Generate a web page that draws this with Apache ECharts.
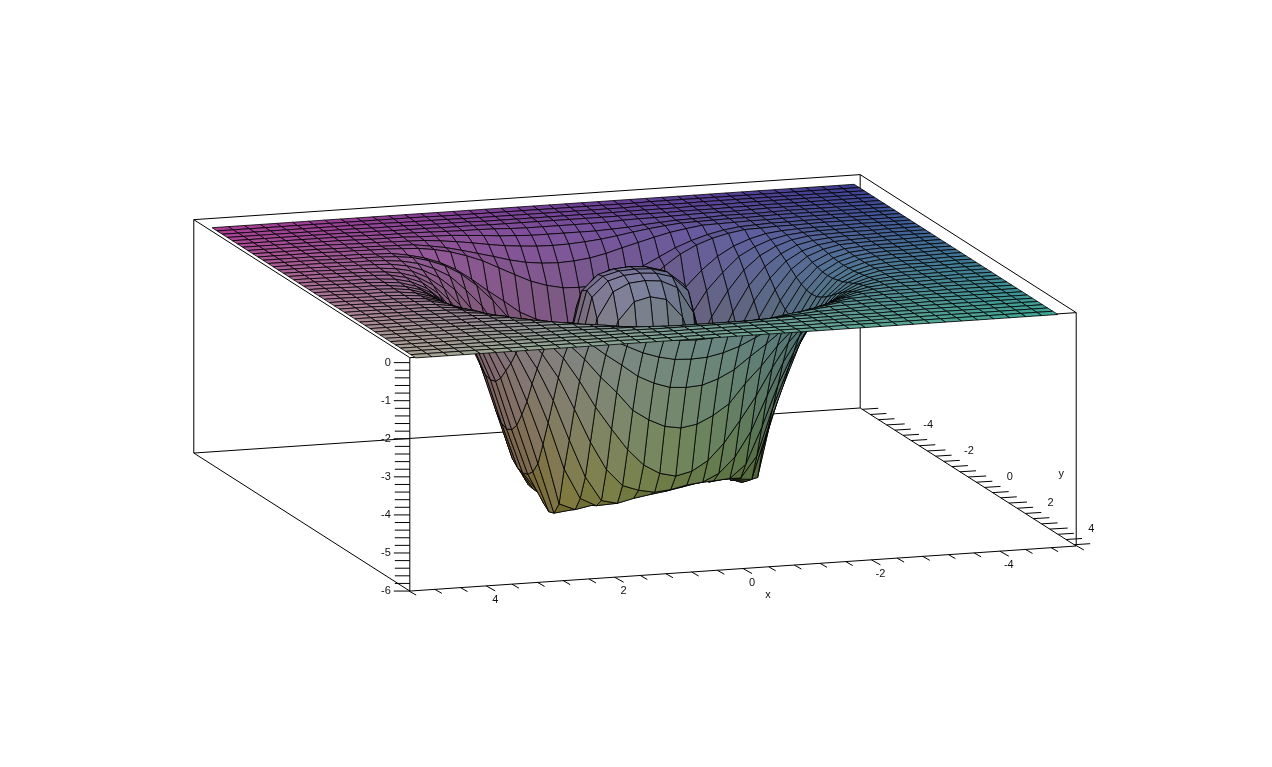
<!DOCTYPE html>
<html>
<head>
<meta charset="utf-8">
<style>html,body{margin:0;padding:0;background:#fff}#main{width:1272px;height:767px}</style>
<script src="https://cdn.jsdelivr.net/npm/echarts@6/dist/echarts.min.js"></script>
</head>
<body>
<div id="main"></div>
<script>
// surface grid, x and y run from -5 to 5 in steps of 0.25
var xGrid = [-5,-4.75,-4.5,-4.25,-4,-3.75,-3.5,-3.25,-3,-2.75,-2.5,-2.25,-2,-1.75,-1.5,-1.25,-1,-.75,-.5,-.25,0,.25,.5,.75,1,1.25,1.5,1.75,2,2.25,2.5,2.75,3,3.25,3.5,3.75,4,4.25,4.5,4.75,5];
var yGrid = xGrid;
// z values, one row per y (far row first), columns follow xGrid
var zRows = [
[0,0,0,0,0,0,0,0,0,0,0,0,0,0,0,0,0,0,0,0,0,0,0,0,0,0,0,0,0,0,0,0,0,0,0,0,0,0,0,0,0],
[0,0,0,0,0,0,0,0,0,0,0,0,0,0,-.01,-.01,-.01,-.01,-.01,-.01,-.01,-.01,-.01,-.01,-.01,-.01,-.01,0,0,0,0,0,0,0,0,0,0,0,0,0,0],
[0,0,0,0,0,0,0,0,0,0,0,-.01,-.01,-.01,-.01,-.02,-.02,-.02,-.02,-.02,-.02,-.02,-.02,-.02,-.02,-.02,-.01,-.01,-.01,-.01,0,0,0,0,0,0,0,0,0,0,0],
[0,0,0,0,0,0,0,0,0,-.01,-.01,-.01,-.02,-.02,-.02,-.02,-.03,-.03,-.03,-.03,-.03,-.03,-.03,-.03,-.03,-.02,-.02,-.02,-.02,-.01,-.01,-.01,0,0,0,0,0,0,0,0,0],
[0,0,0,0,0,0,0,0,-.01,-.01,-.02,-.02,-.02,-.03,-.03,-.03,-.04,-.04,-.04,-.04,-.04,-.04,-.04,-.04,-.04,-.03,-.03,-.03,-.02,-.02,-.02,-.01,-.01,0,0,0,0,0,0,0,0],
[0,0,0,0,0,0,0,0,-.01,-.02,-.02,-.02,-.03,-.04,-.05,-.05,-.06,-.08,-.09,-.09,-.09,-.09,-.09,-.08,-.06,-.05,-.05,-.04,-.03,-.02,-.02,-.02,-.01,0,0,0,0,0,0,0,0],
[0,0,0,0,0,0,0,-.01,-.02,-.02,-.02,-.04,-.05,-.06,-.09,-.12,-.16,-.18,-.2,-.2,-.2,-.2,-.2,-.18,-.16,-.12,-.09,-.06,-.05,-.04,-.02,-.02,-.02,-.01,0,0,0,0,0,0,0],
[0,0,0,0,0,0,0,0,-.01,-.02,-.02,-.03,-.04,-.05,-.09,-.14,-.2,-.27,-.33,-.37,-.4,-.41,-.4,-.37,-.33,-.27,-.2,-.14,-.09,-.05,-.04,-.03,-.02,-.02,-.01,0,0,0,0,0,0],
[0,0,0,0,0,0,0,-.01,-.02,-.02,-.03,-.04,-.05,-.11,-.18,-.28,-.39,-.5,-.62,-.71,-.76,-.78,-.76,-.71,-.62,-.5,-.39,-.28,-.18,-.11,-.05,-.04,-.03,-.02,-.02,-.01,0,0,0,0,0],
[0,0,0,0,0,-.01,-.01,-.02,-.02,-.04,-.06,-.12,-.21,-.34,-.5,-.71,-.92,-1.12,-1.26,-1.35,-1.37,-1.35,-1.26,-1.12,-.92,-.71,-.5,-.34,-.21,-.12,-.06,-.04,-.02,-.02,-.01,-.01,0,0,0,0,0],
[0,0,0,0,0,0,-.01,-.02,-.02,-.04,-.05,-.12,-.22,-.37,-.58,-.87,-1.2,-1.5,-1.82,-2.03,-2.17,-2.2,-2.17,-2.03,-1.82,-1.5,-1.2,-.87,-.58,-.37,-.22,-.12,-.05,-.04,-.02,-.02,-.01,0,0,0,0],
[0,0,0,0,-.01,-.02,-.02,-.03,-.05,-.1,-.21,-.37,-.61,-.95,-1.37,-1.87,-2.3,-2.8,-3.08,-3.28,-3.35,-3.28,-3.08,-2.8,-2.3,-1.87,-1.37,-.95,-.61,-.37,-.21,-.1,-.05,-.03,-.02,-.02,-.01,0,0,0,0],
[0,0,0,0,-.01,-.02,-.02,-.04,-.08,-.17,-.33,-.56,-.95,-1.4,-2.03,-2.74,-3.35,-3.92,-4.35,-4.6,-4.7,-4.6,-4.35,-3.92,-3.35,-2.74,-2.03,-1.4,-.95,-.56,-.33,-.17,-.08,-.04,-.02,-.02,-.01,0,0,0,0],
[0,0,0,-.01,-.01,-.02,-.03,-.05,-.12,-.26,-.48,-.83,-1.35,-2,-2.85,-3.75,-4.5,-5,-5.24,-5.42,-5.48,-5.42,-5.24,-5,-4.5,-3.75,-2.85,-2,-1.35,-.83,-.48,-.26,-.12,-.05,-.03,-.02,-.01,-.01,0,0,0],
[0,0,0,-.01,-.02,-.02,-.04,-.08,-.17,-.37,-.68,-1.15,-1.82,-2.68,-3.75,-4.75,-5.24,-5.62,-5.62,-5.55,-5.5,-5.55,-5.62,-5.62,-5.24,-4.75,-3.75,-2.68,-1.82,-1.15,-.68,-.37,-.17,-.08,-.04,-.02,-.02,-.01,0,0,0],
[0,0,0,-.01,-.02,-.03,-.05,-.11,-.24,-.48,-.9,-1.47,-2.3,-3.35,-4.6,-5.3,-5.64,-5.35,-4.7,-4.15,-3.95,-4.15,-4.7,-5.35,-5.64,-5.3,-4.6,-3.35,-2.3,-1.47,-.9,-.48,-.24,-.11,-.05,-.03,-.02,-.01,0,0,0],
[0,0,-.01,-.01,-.02,-.03,-.05,-.14,-.3,-.61,-1.12,-1.82,-2.85,-4,-5.1,-5.63,-5.25,-3.95,-2.75,-1.95,-1.7,-1.95,-2.75,-3.95,-5.25,-5.63,-5.1,-4,-2.85,-1.82,-1.12,-.61,-.3,-.14,-.05,-.03,-.02,-.01,-.01,0,0],
[0,0,-.01,-.02,-.02,-.04,-.07,-.17,-.37,-.73,-1.32,-2.1,-3.28,-4.6,-5.48,-5.5,-4.15,-2.2,-1,-.52,-.42,-.52,-1,-2.2,-4.15,-5.5,-5.48,-4.6,-3.28,-2.1,-1.32,-.73,-.37,-.17,-.07,-.04,-.02,-.02,-.01,0,0],
[0,0,-.01,-.02,-.02,-.04,-.08,-.2,-.41,-.83,-1.47,-2.38,-3.65,-4.9,-5.62,-5,-2.9,-1,-.32,-.12,-.08,-.12,-.32,-1,-2.9,-5,-5.62,-4.9,-3.65,-2.38,-1.47,-.83,-.41,-.2,-.08,-.04,-.02,-.02,-.01,0,0],
[0,0,-.01,-.02,-.02,-.04,-.09,-.21,-.45,-.9,-1.57,-2.55,-3.85,-5.05,-5.65,-4.45,-2.2,-.52,-.12,0,.03,0,-.12,-.52,-2.2,-4.45,-5.65,-5.05,-3.85,-2.55,-1.57,-.9,-.45,-.21,-.09,-.04,-.02,-.02,-.01,0,0],
[0,0,-.01,-.02,-.02,-.04,-.09,-.22,-.46,-.92,-1.6,-2.6,-3.92,-5.1,-5.62,-4.25,-1.95,-.42,-.08,.03,.05,.03,-.08,-.42,-1.95,-4.25,-5.65,-5.1,-3.92,-2.6,-1.6,-.92,-.46,-.22,-.09,-.04,-.02,-.02,-.01,0,0],
[0,0,-.01,-.02,-.02,-.04,-.09,-.21,-.45,-.9,-1.57,-2.55,-3.85,-5.05,-5.6,-4.45,-2.2,-.52,-.12,0,.03,0,-.12,-.52,-2.2,-4.45,-5.85,-5.05,-3.85,-2.55,-1.57,-.9,-.45,-.21,-.09,-.04,-.02,-.02,-.01,0,0],
[0,0,-.01,-.02,-.02,-.04,-.08,-.2,-.41,-.83,-1.47,-2.38,-3.65,-5.45,-5.55,-5,-2.9,-1,-.32,-.12,-.08,-.12,-.32,-1,-2.9,-5.1,-5.98,-4.9,-3.65,-2.38,-1.47,-.83,-.41,-.2,-.08,-.04,-.02,-.02,-.01,0,0],
[0,0,-.01,-.02,-.02,-.04,-.07,-.17,-.37,-.73,-1.32,-2.1,-3.28,-4.6,-5.43,-5.38,-4.15,-2.2,-1,-.52,-.42,-.52,-1,-2.2,-4.2,-5.88,-5.93,-4.6,-3.28,-2.1,-1.32,-.73,-.37,-.17,-.07,-.04,-.02,-.02,-.01,0,0],
[0,0,-.01,-.01,-.02,-.03,-.05,-.14,-.3,-.61,-1.12,-1.82,-2.85,-4,-5.3,-5.26,-5,-3.95,-2.75,-1.95,-1.7,-1.95,-2.75,-3.95,-5.7,-5.78,-5.6,-4,-2.85,-1.82,-1.12,-.61,-.3,-.14,-.05,-.03,-.02,-.01,-.01,0,0],
[0,0,0,-.01,-.02,-.03,-.05,-.11,-.24,-.48,-.9,-1.47,-2.3,-3.35,-4.6,-5.15,-5.15,-5.2,-4.7,-4.15,-3.95,-4.15,-4.7,-5.6,-5.62,-5.4,-4.6,-3.35,-2.3,-1.47,-.9,-.48,-.24,-.11,-.05,-.03,-.02,-.01,0,0,0],
[0,0,0,-.01,-.02,-.02,-.04,-.08,-.17,-.37,-.68,-1.15,-1.82,-2.68,-3.75,-4.7,-5.05,-5.08,-5.11,-5.19,-5.27,-5.33,-5.4,-5.5,-5.4,-4.75,-3.75,-2.68,-1.82,-1.15,-.68,-.37,-.17,-.08,-.04,-.02,-.02,-.01,0,0,0],
[0,0,0,-.01,-.01,-.02,-.03,-.05,-.12,-.26,-.48,-.83,-1.35,-2,-2.85,-3.75,-4.4,-4.8,-5,-5.05,-5.14,-5.18,-5.1,-4.95,-4.5,-3.75,-2.85,-2,-1.35,-.83,-.48,-.26,-.12,-.05,-.03,-.02,-.01,-.01,0,0,0],
[0,0,0,0,-.01,-.02,-.02,-.04,-.08,-.17,-.33,-.56,-.95,-1.4,-2.03,-2.74,-3.35,-3.92,-4.35,-4.6,-4.7,-4.6,-4.35,-3.92,-3.35,-2.74,-2.03,-1.4,-.95,-.56,-.33,-.17,-.08,-.04,-.02,-.02,-.01,0,0,0,0],
[0,0,0,0,-.01,-.02,-.02,-.03,-.05,-.1,-.21,-.37,-.61,-.95,-1.37,-1.87,-2.3,-2.8,-3.08,-3.28,-3.35,-3.28,-3.08,-2.8,-2.3,-1.87,-1.37,-.95,-.61,-.37,-.21,-.1,-.05,-.03,-.02,-.02,-.01,0,0,0,0],
[0,0,0,0,0,-.01,-.02,-.02,-.04,-.05,-.12,-.22,-.37,-.58,-.87,-1.2,-1.5,-1.82,-2.03,-2.17,-2.2,-2.17,-2.03,-1.82,-1.5,-1.2,-.87,-.58,-.37,-.22,-.12,-.05,-.04,-.02,-.02,-.01,0,0,0,0,0],
[0,0,0,0,0,-.01,-.01,-.02,-.02,-.04,-.06,-.12,-.21,-.34,-.5,-.71,-.92,-1.12,-1.26,-1.35,-1.37,-1.35,-1.26,-1.12,-.92,-.71,-.5,-.34,-.21,-.12,-.06,-.04,-.02,-.02,-.01,-.01,0,0,0,0,0],
[0,0,0,0,0,0,-.01,-.02,-.02,-.03,-.04,-.05,-.11,-.18,-.28,-.39,-.5,-.62,-.71,-.76,-.78,-.76,-.71,-.62,-.5,-.39,-.28,-.18,-.11,-.05,-.04,-.03,-.02,-.02,-.01,0,0,0,0,0,0],
[0,0,0,0,0,0,0,-.01,-.02,-.02,-.03,-.04,-.05,-.09,-.14,-.2,-.27,-.33,-.37,-.4,-.41,-.4,-.37,-.33,-.27,-.2,-.14,-.09,-.05,-.04,-.03,-.02,-.02,-.01,0,0,0,0,0,0,0],
[0,0,0,0,0,0,0,-.01,-.02,-.02,-.02,-.04,-.05,-.06,-.09,-.12,-.16,-.18,-.2,-.2,-.2,-.2,-.2,-.18,-.16,-.12,-.09,-.06,-.05,-.04,-.02,-.02,-.02,-.01,0,0,0,0,0,0,0],
[0,0,0,0,0,0,0,0,-.01,-.02,-.02,-.02,-.03,-.04,-.05,-.05,-.06,-.08,-.09,-.09,-.09,-.09,-.09,-.08,-.06,-.05,-.05,-.04,-.03,-.02,-.02,-.02,-.01,0,0,0,0,0,0,0,0],
[0,0,0,0,0,0,0,0,-.01,-.01,-.02,-.02,-.02,-.03,-.03,-.03,-.04,-.04,-.04,-.04,-.04,-.04,-.04,-.04,-.04,-.03,-.03,-.03,-.02,-.02,-.02,-.01,-.01,0,0,0,0,0,0,0,0],
[0,0,0,0,0,0,0,0,0,-.01,-.01,-.01,-.02,-.02,-.02,-.02,-.03,-.03,-.03,-.03,-.03,-.03,-.03,-.03,-.03,-.02,-.02,-.02,-.02,-.01,-.01,-.01,0,0,0,0,0,0,0,0,0],
[0,0,0,0,0,0,0,0,0,0,0,-.01,-.01,-.01,-.01,-.02,-.02,-.02,-.02,-.02,-.02,-.02,-.02,-.02,-.02,-.02,-.01,-.01,-.01,-.01,0,0,0,0,0,0,0,0,0,0,0],
[0,0,0,0,0,0,0,0,0,0,0,0,0,0,-.01,-.01,-.01,-.01,-.01,-.01,-.01,-.01,-.01,-.01,-.01,-.01,-.01,0,0,0,0,0,0,0,0,0,0,0,0,0,0],
[0,0,0,0,0,0,0,0,0,0,0,0,0,0,0,0,0,0,0,0,0,0,0,0,0,0,0,0,0,0,0,0,0,0,0,0,0,0,0,0,0]
];
var xTickLabels = [4,2,0,-2,-4];
var yTickLabels = [-4,-2,0,2,4];
var zTickLabels = [0,-1,-2,-3,-4,-5,-6];

// box limits
var xMax = 5.19, yMax = 5.3, zMin = -6, zTop = .13;

// parallel projection of the 3d box onto the page axes
function project(x, y, z) {
    return [635 - 64.2 * x + 20.38 * y, 271.1 + 4.34 * x + 13.02 * y - 38.07 * z];
}

var boxEdges = [
    [[xMax,-yMax,zTop],[-xMax,-yMax,zTop]], [[-xMax,-yMax,zTop],[-xMax,yMax,zTop]],
    [[-xMax,yMax,zTop],[xMax,yMax,zTop]], [[xMax,yMax,zTop],[xMax,-yMax,zTop]],
    [[xMax,-yMax,zMin],[-xMax,-yMax,zMin]], [[-xMax,-yMax,zMin],[-xMax,yMax,zMin]],
    [[-xMax,yMax,zMin],[xMax,yMax,zMin]], [[xMax,yMax,zMin],[xMax,-yMax,zMin]],
    [[xMax,-yMax,zMin],[xMax,-yMax,zTop]], [[-xMax,-yMax,zMin],[-xMax,-yMax,zTop]],
    [[-xMax,yMax,zMin],[-xMax,yMax,zTop]], [[xMax,yMax,zMin],[xMax,yMax,zTop]]
];

// tick segments given as start point + page offset
var ticks = [];
for (var t = -13; t <= 13; t++) {
    var v = t * .4;
    ticks.push({p: [v, yMax, zMin], d: t % 5 === 0 ? [9, 5] : [7, 4]});
    ticks.push({p: [-xMax, v, zMin], d: t % 5 === 0 ? [18, -1] : [16, -1]});
}
for (var k = 0; k <= 30; k++) {
    ticks.push({p: [xMax, yMax, -k * .2], d: k % 5 === 0 ? [-16, 0] : [-15, 0]});
}

var texts = [];
xTickLabels.forEach(function (l) { texts.push({p: [l, yMax, zMin], d: [9, 14], s: String(l)}); });
yTickLabels.forEach(function (l) { texts.push({p: [-xMax, l, zMin], d: [41.5, 0], s: String(l)}); });
zTickLabels.forEach(function (l) { texts.push({p: [xMax, yMax, l], d: [-19, 0], s: String(l), right: true}); });
texts.push({p: [0, yMax, zMin], d: [25, 26], s: 'x'});
texts.push({p: [-xMax, 2.9, zMin], d: [34, -41], s: 'y'});

function cellColor(i, j) {
    var z00 = zRows[j][i], z10 = zRows[j][i + 1], z01 = zRows[j + 1][i], z11 = zRows[j + 1][i + 1];
    var x = (xGrid[i] + xGrid[i + 1]) / 2, y = (yGrid[j] + yGrid[j + 1]) / 2, z = (z00 + z10 + z01 + z11) / 4;
    var step = xGrid[1] - xGrid[0];
    var zx = (z10 + z11 - z00 - z01) / (2 * step), zy = (z01 + z11 - z00 - z10) / (2 * step);
    var len = Math.sqrt(zx * zx + zy * zy + 1);
    var lit = Math.abs(.3 * -zx + .7 * -zy + .65) / len;
    var shade = .85 + .22 * lit;
    var r = (62 + (x + 5) * 11) * shade;
    var g = (62 + (y + 5) * 10.5) * shade;
    var b = (45 + 105 * Math.pow(Math.max(0, z + 6) / 6, .7)) * shade;
    return 'rgb(' + Math.min(255, Math.round(r)) + ',' + Math.min(255, Math.round(g)) + ',' + Math.min(255, Math.round(b)) + ')';
}

var cells = [];
for (var j = 0; j < yGrid.length - 1; j++) {
    for (var i = 0; i < xGrid.length - 1; i++) {
        cells.push([i, j]);
    }
}

function coord(api, x, y, z) {
    return api.coord(project(x, y, z));
}

var chart = echarts.init(document.getElementById('main'), null, {renderer: 'canvas'});
chart.setOption({
    backgroundColor: '#fff',
    animation: false,
    tooltip: {show: false},
    grid: {left: 0, right: 0, top: 0, bottom: 0},
    xAxis: {type: 'value', min: 0, max: 1272, show: false},
    yAxis: {type: 'value', min: 0, max: 767, inverse: true, show: false},
    series: [
        {
            type: 'custom', silent: true, clip: false, z: 1,
            data: boxEdges.map(function (e, n) { return [n, 0]; }),
            renderItem: function (params, api) {
                var e = boxEdges[params.dataIndex];
                var a = coord(api, e[0][0], e[0][1], e[0][2]), b = coord(api, e[1][0], e[1][1], e[1][2]);
                return {type: 'line', shape: {x1: a[0], y1: a[1], x2: b[0], y2: b[1]}, style: {stroke: '#000', lineWidth: 1}};
            }
        },
        {
            type: 'custom', silent: true, clip: false, z: 1,
            data: ticks.map(function (e, n) { return [n, 0]; }),
            renderItem: function (params, api) {
                var e = ticks[params.dataIndex];
                var a = coord(api, e.p[0], e.p[1], e.p[2]);
                return {type: 'line', shape: {x1: a[0], y1: a[1], x2: a[0] + e.d[0], y2: a[1] + e.d[1]}, style: {stroke: '#000', lineWidth: 1}};
            }
        },
        {
            // rows are drawn far to near, so nearer cells cover the ones behind
            type: 'custom', silent: true, clip: false, z: 2, progressive: 0,
            data: cells,
            renderItem: function (params, api) {
                var i = cells[params.dataIndex][0], j = cells[params.dataIndex][1];
                return {
                    type: 'polygon',
                    shape: {points: [
                        coord(api, xGrid[i], yGrid[j], zRows[j][i]),
                        coord(api, xGrid[i + 1], yGrid[j], zRows[j][i + 1]),
                        coord(api, xGrid[i + 1], yGrid[j + 1], zRows[j + 1][i + 1]),
                        coord(api, xGrid[i], yGrid[j + 1], zRows[j + 1][i])
                    ]},
                    style: {fill: cellColor(i, j), stroke: '#000', lineWidth: .8}
                };
            }
        },
        {
            type: 'custom', silent: true, clip: false, z: 3,
            data: texts.map(function (e, n) { return [n, 0]; }),
            renderItem: function (params, api) {
                var e = texts[params.dataIndex];
                var a = coord(api, e.p[0], e.p[1], e.p[2]);
                return {
                    type: 'text', x: a[0] + e.d[0], y: a[1] + e.d[1],
                    style: {text: e.s, fill: '#111', font: '11px "Liberation Sans"', align: e.right ? 'right' : 'center', verticalAlign: 'middle'}
                };
            }
        }
    ]
});
</script>
</body>
</html>
